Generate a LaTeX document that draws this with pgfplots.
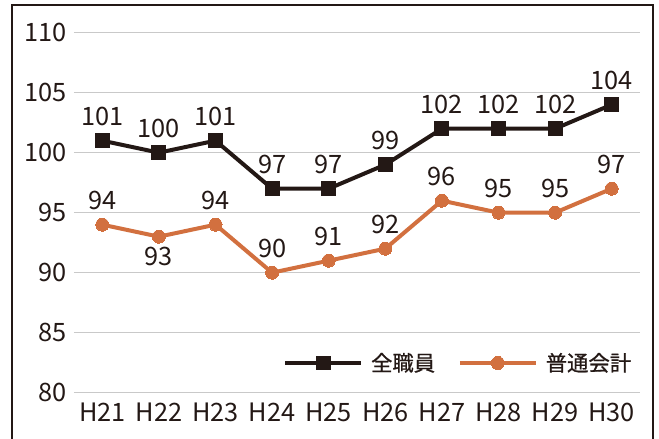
\documentclass[border=0pt]{standalone}
\usepackage{pgfplots}
\pgfplotsset{compat=1.18}
\usepackage{fontspec}
\setmainfont{Noto Sans CJK JP}
\newfontfamily\legfont[FakeBold=0.8]{Noto Sans CJK JP}
\definecolor{cblack}{HTML}{231815}
\definecolor{corange}{HTML}{D2703F}
\definecolor{cgrid}{HTML}{C9C9C9}
\newcommand{\bigf}{\fontsize{19}{22}\selectfont}
\newcommand{\legf}{\legfont\fontsize{16}{19}\selectfont}
\begin{document}
\begin{tikzpicture}[font=\bigf]
\path[use as bounding box] (-55.5pt,-34.7pt) rectangle (438.75pt,294.5pt);
\draw[cblack, line width=1pt] (-46.5pt,-36pt) -- (-46.5pt,290.8pt) -- (434.25pt,290.8pt) -- (434.25pt,-36pt);
\begin{axis}[
  at={(0pt,0pt)}, anchor=south west,
  scale only axis, width=424.5pt, height=270pt,
  xmin=-0.5, xmax=9.5, ymin=80, ymax=110,
  ytick={80,85,...,110},
  xtick={0,...,9},
  xticklabels={H21,H22,H23,H24,H25,H26,H27,H28,H29,H30},
  axis line style={draw=none},
  major tick length=0pt,
  ymajorgrids,
  grid style={cgrid, line width=1.1pt},
  /pgf/number format/assume math mode=true,
  tick label style={font=\bigf, text=cblack},
  yticklabel style={xshift=-2pt},
  xticklabel style={yshift=-4pt},
  clip=false,
  legend columns=2,
  legend style={draw=none, fill=none, at={(0.369,0.0825)}, anchor=west, inner sep=0pt,
    font=\legf, text=cblack, nodes={inner sep=0pt},
    /tikz/every odd column/.append style={column sep=6pt},
    /tikz/every even column/.append style={column sep=17pt}},
  legend image code/.code={\draw[mark repeat=2,mark phase=2,#1] plot coordinates {(0pt,0pt) (28.5pt,0pt) (57pt,0pt)};},
  nodes near coords,
  every node near coord/.append style={font=\bigf, text=cblack, anchor=south, inner sep=0pt, yshift=11pt},
]
\addplot[cblack, line width=3pt, mark=square*, mark size=5.2pt, mark options={line width=0pt, fill=cblack}]
  coordinates {(0,101) (1,100) (2,101) (3,97) (4,97) (5,99) (6,102) (7,102) (8,102) (9,104)};
\addlegendentry{全職員}
\addplot[corange, line width=3pt, mark=*, mark size=4.9pt, mark options={line width=0pt, fill=corange}, nodes near coords=\empty]
  coordinates {(0,94) (1,93) (2,94) (3,90) (4,91) (5,92) (6,96) (7,95) (8,95) (9,97)};
\addlegendentry{普通会計}
\addplot[draw=none, forget plot]
  coordinates {(0,94) (2,94) (3,90) (4,91) (5,92) (6,96) (7,95) (8,95) (9,97)};
\addplot[draw=none, forget plot, every node near coord/.append style={anchor=north, yshift=-19pt}]
  coordinates {(1,93)};
\end{axis}
\end{tikzpicture}
\end{document}
